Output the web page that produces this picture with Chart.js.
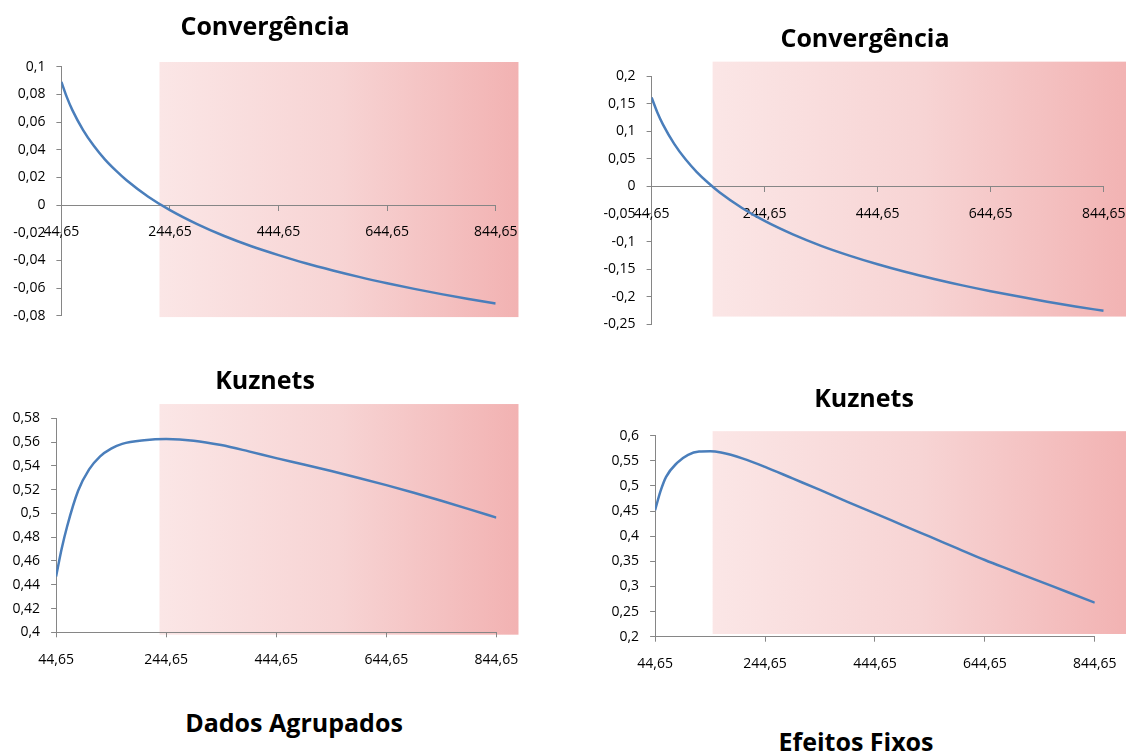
<!DOCTYPE html>
<html>
<head>
<meta charset="utf-8">
<script src="https://cdn.jsdelivr.net/npm/chart.js@4.4.1/dist/chart.umd.min.js"></script>
<style>
  html, body { margin: 0; padding: 0; background: #fff; overflow: hidden; width: 1126px; height: 753px; }
  canvas { position: absolute; }
  .title { position: absolute; font-family: "Open Sans", sans-serif; font-weight: 700; font-size: 25px;
           line-height: 30px; color: #000; white-space: nowrap; transform: translateX(-50%); }
</style>
</head>
<body>
<canvas id="convAgr" width="563" height="350" style="left:0;top:0"></canvas>
<canvas id="convFix" width="580" height="350" style="left:563px;top:0"></canvas>
<canvas id="kuzAgr" width="563" height="350" style="left:0;top:350px"></canvas>
<canvas id="kuzFix" width="580" height="350" style="left:563px;top:350px"></canvas>

<div class="title" style="left:265px;top:10px">Convergência</div>
<div class="title" style="left:865px;top:22px">Convergência</div>
<div class="title" style="left:265px;top:364px">Kuznets</div>
<div class="title" style="left:864px;top:382px">Kuznets</div>
<div class="title" style="left:294px;top:707px">Dados Agrupados</div>
<div class="title" style="left:856px;top:726px">Efeitos Fixos</div>

<script>
// valores
const xValues = [44.65, 54.65, 64.65, 84.65, 104.65, 124.65, 144.65, 164.65, 204.65, 244.65, 294.65,
  344.65, 394.65, 444.65, 494.65, 544.65, 594.65, 644.65, 694.65, 744.65, 794.65, 844.65]

const convAgrupados = [0.089, 0.078, 0.0688, 0.0542, 0.0426, 0.033, 0.025, 0.0179, 0.006, -0.0037, -0.0138,
  -0.0224, -0.0298, -0.0362, -0.0421, -0.0473, -0.0521, -0.0565, -0.0606, -0.0644, -0.0679, -0.0712]
const convFixos = [0.161, 0.1344, 0.1123, 0.077, 0.049, 0.0259, 0.0065, -0.0106, -0.0391, -0.0627, -0.0871,
  -0.1078, -0.1255, -0.1412, -0.1553, -0.1679, -0.1795, -0.1901, -0.1998, -0.209, -0.2176, -0.2256]
const kuzAgrupados = [0.447, 0.470, 0.489, 0.519, 0.537, 0.548, 0.5545, 0.5585, 0.5615, 0.5625, 0.5612,
  0.5575, 0.5522, 0.5465, 0.5412, 0.5356, 0.5298, 0.5238, 0.5174, 0.5106, 0.5036, 0.4965]
const kuzFixos = [0.452, 0.49, 0.518, 0.546, 0.562, 0.5685, 0.569, 0.5665, 0.5545, 0.538, 0.515,
  0.492, 0.4685, 0.4455, 0.4222, 0.399, 0.3758, 0.3526, 0.3313, 0.310, 0.289, 0.2677]

const xTicks = [44.65, 244.65, 444.65, 644.65, 844.65]
const yTicksConvAgr = [-0.08, -0.06, -0.04, -0.02, 0, 0.02, 0.04, 0.06, 0.08, 0.1]
const yTicksConvFix = [-0.25, -0.2, -0.15, -0.1, -0.05, 0, 0.05, 0.1, 0.15, 0.2]
const yTicksKuzAgr = [0.4, 0.42, 0.44, 0.46, 0.48, 0.5, 0.52, 0.54, 0.56, 0.58]
const yTicksKuzFix = [0.2, 0.25, 0.3, 0.35, 0.4, 0.45, 0.5, 0.55, 0.6]

// faixa sombreada (em unidades dos eixos)
const shadeConvAgr = { x: [225.3, 886.6], y: [-0.081, 0.1034] }
const shadeConvFix = { x: [152.6, 895], y: [-0.236, 0.226] }
const shadeKuzAgr = { x: [232.5, 884.8], y: [0.398, 0.592] }
const shadeKuzFix = { x: [149.3, 910], y: [0.2054, 0.609] }

const fmt = v => String(v).replace('.', ',')
const tickFont = { family: 'Open Sans', size: 14 }
const axisColor = '#868686'

const shadePlugin = {
  id: 'shade',
  beforeDraw(chart, args, opts) {
    const { ctx, scales } = chart
    const x1 = scales.x.getPixelForValue(opts.x[0])
    const x2 = scales.x.getPixelForValue(opts.x[1])
    const yTop = scales.y.getPixelForValue(opts.y[1])
    const yBot = scales.y.getPixelForValue(opts.y[0])
    const grad = ctx.createLinearGradient(x1, 0, x2, 0)
    grad.addColorStop(0, '#fbe6e6')
    grad.addColorStop(0.5, '#f7d4d4')
    grad.addColorStop(1, '#f2b2b2')
    ctx.save()
    ctx.fillStyle = grad
    ctx.fillRect(x1, yTop, x2 - x1, yBot - yTop)
    ctx.restore()
  }
}

const makeChart = (id, values, yTicks, shade, area, zeroAxis) => {
  const canvas = document.getElementById(id)
  const W = canvas.width, H = canvas.height
  const xAxis = {
    type: 'linear',
    min: xTicks[0],
    max: xTicks[xTicks.length - 1],
    afterBuildTicks: s => { s.ticks = xTicks.map(v => ({ value: v })) },
    ticks: { callback: fmt, font: tickFont, color: '#000', padding: 14, maxRotation: 0, autoSkip: false },
    grid: { drawOnChartArea: false, drawTicks: true, tickLength: 5, color: axisColor },
    border: { color: axisColor, width: 1 }
  }
  if (zeroAxis) xAxis.position = { y: 0 }
  else xAxis.afterFit = s => { s.height = H - area.bottom }

  return new Chart(canvas, {
    type: 'line',
    data: {
      datasets: [{
        data: xValues.map((x, i) => ({ x: x, y: values[i] })),
        borderColor: '#4a7ebb',
        borderWidth: 2.5,
        pointRadius: 0,
        cubicInterpolationMode: 'monotone',
        fill: false
      }]
    },
    options: {
      responsive: false,
      animation: false,
      layout: { padding: { left: 0, right: W - area.right, top: area.top, bottom: zeroAxis ? H - area.bottom : 0 } },
      plugins: { legend: { display: false }, tooltip: { enabled: false }, shade: shade },
      scales: {
        y: {
          min: yTicks[0],
          max: yTicks[yTicks.length - 1],
          afterBuildTicks: s => { s.ticks = yTicks.map(v => ({ value: v })) },
          afterFit: s => { s.width = area.left },
          ticks: { callback: fmt, font: tickFont, color: '#000', padding: 11 },
          grid: { drawOnChartArea: false, drawTicks: true, tickLength: 5, color: axisColor },
          border: { color: axisColor, width: 1 }
        },
        x: xAxis
      }
    },
    plugins: [shadePlugin]
  })
}

makeChart('convAgr', convAgrupados, yTicksConvAgr, shadeConvAgr, { left: 61.4, right: 495.7, top: 66.7, bottom: 315.7 }, true)
makeChart('convFix', convFixos, yTicksConvFix, shadeConvFix, { left: 88.6, right: 540.7, top: 76, bottom: 324.3 }, true)
makeChart('kuzAgr', kuzAgrupados, yTicksKuzAgr, shadeKuzAgr, { left: 56.1, right: 496.4, top: 68.3, bottom: 282.3 }, false)
makeChart('kuzFix', kuzFixos, yTicksKuzFix, shadeKuzFix, { left: 92.1, right: 531.8, top: 85.7, bottom: 286.7 }, false)
</script>
</body>
</html>
